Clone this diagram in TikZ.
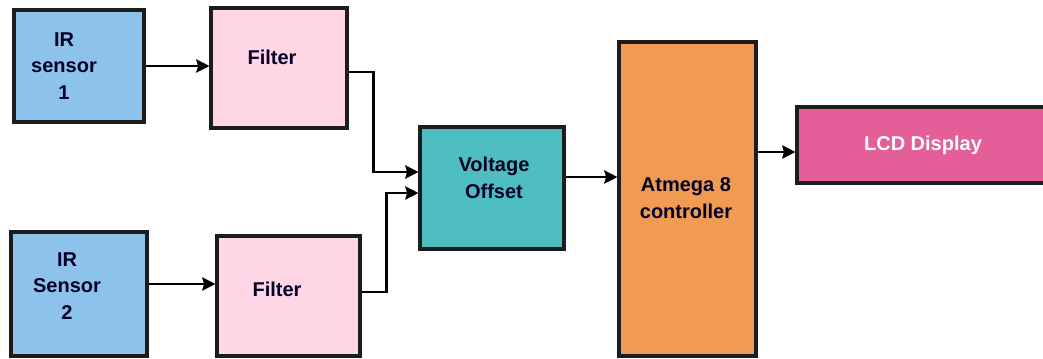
\documentclass[tikz,border=0pt]{standalone}
\usepackage{fontspec}
\setmainfont{Liberation Sans}
\usetikzlibrary{arrows.meta,calc}
\definecolor{irBlue}{HTML}{8DC3EA}
\definecolor{filtPink}{HTML}{FFD6E6}
\definecolor{voltTeal}{HTML}{4EBEC0}
\definecolor{atmOrange}{HTML}{F19B52}
\definecolor{lcdMagenta}{HTML}{E45E9A}
\definecolor{edgeDark}{HTML}{1C1C1C}

\begin{document}
\begin{tikzpicture}[x=0.75pt,y=-0.75pt,
  blk/.style={draw=edgeDark,line width=2.3pt,rectangle},
  txt/.style={inner sep=0pt,align=center,font=\fontsize{15}{20}\selectfont\bfseries,text=black!85!blue},
  arr/.style={line width=1.6pt,-{Stealth[length=10pt,width=10pt,inset=1.5pt]}}]
\useasboundingbox (0,0) rectangle (1043,358);
\clip (0,0) rectangle (1043,358);
% boxes
\node[blk,fill=irBlue,minimum width=97.5pt,minimum height=84pt] (ir1) at (79,66) {};
\node[blk,fill=filtPink,minimum width=102pt,minimum height=90pt] (filt1) at (279,68) {};
\node[blk,fill=irBlue,minimum width=102pt,minimum height=93pt] (ir2) at (79,294) {};
\node[blk,fill=filtPink,minimum width=107.25pt,minimum height=90pt] (filt2) at (288.5,296) {};
\node[blk,fill=voltTeal,minimum width=108pt,minimum height=91.5pt] (volt) at (492,188) {};
\node[blk,fill=atmOrange,minimum width=102.75pt,minimum height=235.5pt] (atm) at (687.5,199) {};
\node[blk,fill=lcdMagenta,minimum width=197.25pt,minimum height=57pt] (lcd) at (928.5,145) {};
% labels
\node[txt] (ir1t) at (64,66) {IR\\sensor\\1};
\node[txt] (filt1t) at (272,57) {Filter};
\node[txt] (ir2t) at (67,286) {IR\\Sensor\\2};
\node[txt] (filt2t) at (277,289) {Filter};
\node[txt] (voltt) at (494,178) {Voltage\\Offset};
\node[txt] (atmt) at (686,198) {Atmega 8\\controller};
\node[txt,text=white] (lcdt) at (923,145) {LCD Display};
% connectors
\draw[arr] (ir1.east) -- (ir1.east -| filt1.west);
\coordinate (s2) at ($(ir2.east)+(0,-10)$);
\draw[arr] (s2) -- (s2 -| filt2.west);
\draw[arr] ($(filt1.east)+(0,4)$) -- ++(25,0) |- ($(volt.west)+(0,-16)$);
\draw[arr] ($(filt2.east)+(0,-4)$) -- ++(25,0) |- ($(volt.west)+(0,5)$);
\coordinate (vo) at ($(volt.east)+(0,-11)$);
\draw[arr] (vo) -- (vo -| atm.west);
\coordinate (ao) at ($(lcd.west)+(0,7)$);
\draw[arr] (ao -| atm.east) -- (ao);
\end{tikzpicture}
\end{document}
